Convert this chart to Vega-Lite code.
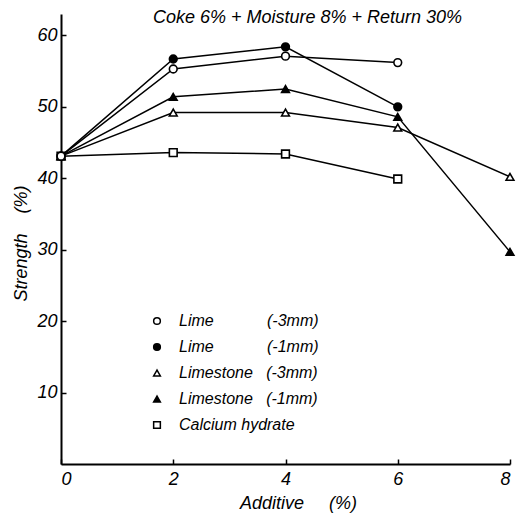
{
  "$schema": "https://vega.github.io/schema/vega-lite/v6.json",
  "autosize": "none",
  "padding": {"left": 61, "top": 14, "right": 11, "bottom": 50},
  "width": 449,
  "height": 450,
  "background": "white",
  "title": {
    "text": "Coke 6% + Moisture 8% + Return 30%",
    "font": "Liberation Sans",
    "fontStyle": "italic",
    "fontWeight": "normal",
    "fontSize": 18,
    "color": "black",
    "anchor": "middle",
    "dx": 22,
    "baseline": "middle",
    "offset": -22
  },
  "config": {
    "view": {"stroke": null},
    "axis": {
      "grid": false,
      "domainColor": "black",
      "domainWidth": 2,
      "tickColor": "black",
      "tickWidth": 1.5,
      "tickSize": -5,
      "labelFont": "Liberation Sans",
      "labelFontStyle": "italic",
      "labelFontSize": 18,
      "labelColor": "black",
      "titleFont": "Liberation Sans",
      "titleFontStyle": "italic",
      "titleFontWeight": "normal",
      "titleFontSize": 18,
      "titleColor": "black"
    },
    "legend": {
      "title": null,
      "orient": "none",
      "legendX": 88,
      "legendY": 299,
      "labelFont": "Liberation Sans",
      "labelFontStyle": "italic",
      "labelFontSize": 16,
      "labelColor": "black",
      "labelLimit": 300,
      "symbolSize": 45,
      "rowPadding": 10,
      "labelOffset": 14
    }
  },
  "data": {
    "values": [
      {"series": "Calcium hydrate", "additive": 0, "strength": 43.1},
      {"series": "Calcium hydrate", "additive": 2, "strength": 43.6},
      {"series": "Calcium hydrate", "additive": 4, "strength": 43.4},
      {"series": "Calcium hydrate", "additive": 6, "strength": 39.9},
      {"series": "Limestone\u00a0\u00a0\u00a0(-3mm)", "additive": 0, "strength": 43.1},
      {"series": "Limestone\u00a0\u00a0\u00a0(-3mm)", "additive": 2, "strength": 49.2},
      {"series": "Limestone\u00a0\u00a0\u00a0(-3mm)", "additive": 4, "strength": 49.2},
      {"series": "Limestone\u00a0\u00a0\u00a0(-3mm)", "additive": 6, "strength": 47.1},
      {"series": "Limestone\u00a0\u00a0\u00a0(-3mm)", "additive": 8, "strength": 40.2},
      {"series": "Limestone\u00a0\u00a0\u00a0(-1mm)", "additive": 0, "strength": 43.1},
      {"series": "Limestone\u00a0\u00a0\u00a0(-1mm)", "additive": 2, "strength": 51.4},
      {"series": "Limestone\u00a0\u00a0\u00a0(-1mm)", "additive": 4, "strength": 52.5},
      {"series": "Limestone\u00a0\u00a0\u00a0(-1mm)", "additive": 6, "strength": 48.6},
      {"series": "Limestone\u00a0\u00a0\u00a0(-1mm)", "additive": 8, "strength": 29.7},
      {"series": "Lime\u00a0\u00a0\u00a0\u00a0\u00a0\u00a0\u00a0\u00a0\u00a0\u00a0\u00a0\u00a0(-1mm)", "additive": 0, "strength": 43.1},
      {"series": "Lime\u00a0\u00a0\u00a0\u00a0\u00a0\u00a0\u00a0\u00a0\u00a0\u00a0\u00a0\u00a0(-1mm)", "additive": 2, "strength": 56.7},
      {"series": "Lime\u00a0\u00a0\u00a0\u00a0\u00a0\u00a0\u00a0\u00a0\u00a0\u00a0\u00a0\u00a0(-1mm)", "additive": 4, "strength": 58.4},
      {"series": "Lime\u00a0\u00a0\u00a0\u00a0\u00a0\u00a0\u00a0\u00a0\u00a0\u00a0\u00a0\u00a0(-1mm)", "additive": 6, "strength": 50.0},
      {"series": "Lime\u00a0\u00a0\u00a0\u00a0\u00a0\u00a0\u00a0\u00a0\u00a0\u00a0\u00a0\u00a0(-3mm)", "additive": 0, "strength": 43.1},
      {"series": "Lime\u00a0\u00a0\u00a0\u00a0\u00a0\u00a0\u00a0\u00a0\u00a0\u00a0\u00a0\u00a0(-3mm)", "additive": 2, "strength": 55.3},
      {"series": "Lime\u00a0\u00a0\u00a0\u00a0\u00a0\u00a0\u00a0\u00a0\u00a0\u00a0\u00a0\u00a0(-3mm)", "additive": 4, "strength": 57.1},
      {"series": "Lime\u00a0\u00a0\u00a0\u00a0\u00a0\u00a0\u00a0\u00a0\u00a0\u00a0\u00a0\u00a0(-3mm)", "additive": 6, "strength": 56.2}
    ]
  },
  "encoding": {
    "x": {
      "field": "additive",
      "type": "quantitative",
      "scale": {"domain": [0, 8], "nice": false, "zero": false},
      "axis": {
        "values": [0, 2, 4, 6, 8],
        "title": "Additive\u00a0\u00a0\u00a0\u00a0\u00a0(%)",
        "titleX": 237,
        "titlePadding": 6,
        "labelPadding": 11
      }
    },
    "y": {
      "field": "strength",
      "type": "quantitative",
      "scale": {"domain": [0, 63], "nice": false, "zero": false},
      "axis": {
        "values": [10, 20, 30, 40, 50, 60],
        "title": "Strength\u00a0\u00a0\u00a0\u00a0(%)",
        "titleY": 229,
        "titlePadding": 6,
        "labelPadding": 9
      }
    }
  },
  "layer": [
    {
      "mark": {"type": "line", "color": "black", "strokeWidth": 1.5},
      "encoding": {"detail": {"field": "series"}}
    },
    {
      "mark": {"type": "point", "filled": true, "stroke": "black", "strokeWidth": 1.6, "size": 60, "opacity": 1},
      "encoding": {
        "shape": {
          "field": "series",
          "type": "nominal",
          "scale": {
            "domain": [
              "Lime\u00a0\u00a0\u00a0\u00a0\u00a0\u00a0\u00a0\u00a0\u00a0\u00a0\u00a0\u00a0(-3mm)",
              "Lime\u00a0\u00a0\u00a0\u00a0\u00a0\u00a0\u00a0\u00a0\u00a0\u00a0\u00a0\u00a0(-1mm)",
              "Limestone\u00a0\u00a0\u00a0(-3mm)",
              "Limestone\u00a0\u00a0\u00a0(-1mm)",
              "Calcium hydrate"
            ],
            "range": ["circle", "circle", "triangle-up", "triangle-up", "square"]
          },
          "legend": {
            "encode": {
              "symbols": {
                "update": {
                  "fill": {"signal": "indexof(datum.label, '-1mm') >= 0 ? 'black' : 'white'"},
                  "stroke": {"value": "black"},
                  "strokeWidth": {"value": 1.3},
                  "opacity": {"value": 1},
                  "fillOpacity": {"value": 1},
                  "strokeOpacity": {"value": 1}
                }
              }
            }
          }
        },
        "fill": {
          "field": "series",
          "type": "nominal",
          "scale": {
            "domain": [
              "Lime\u00a0\u00a0\u00a0\u00a0\u00a0\u00a0\u00a0\u00a0\u00a0\u00a0\u00a0\u00a0(-3mm)",
              "Lime\u00a0\u00a0\u00a0\u00a0\u00a0\u00a0\u00a0\u00a0\u00a0\u00a0\u00a0\u00a0(-1mm)",
              "Limestone\u00a0\u00a0\u00a0(-3mm)",
              "Limestone\u00a0\u00a0\u00a0(-1mm)",
              "Calcium hydrate"
            ],
            "range": ["white", "black", "white", "black", "white"]
          },
          "legend": null
        }
      }
    }
  ]
}
